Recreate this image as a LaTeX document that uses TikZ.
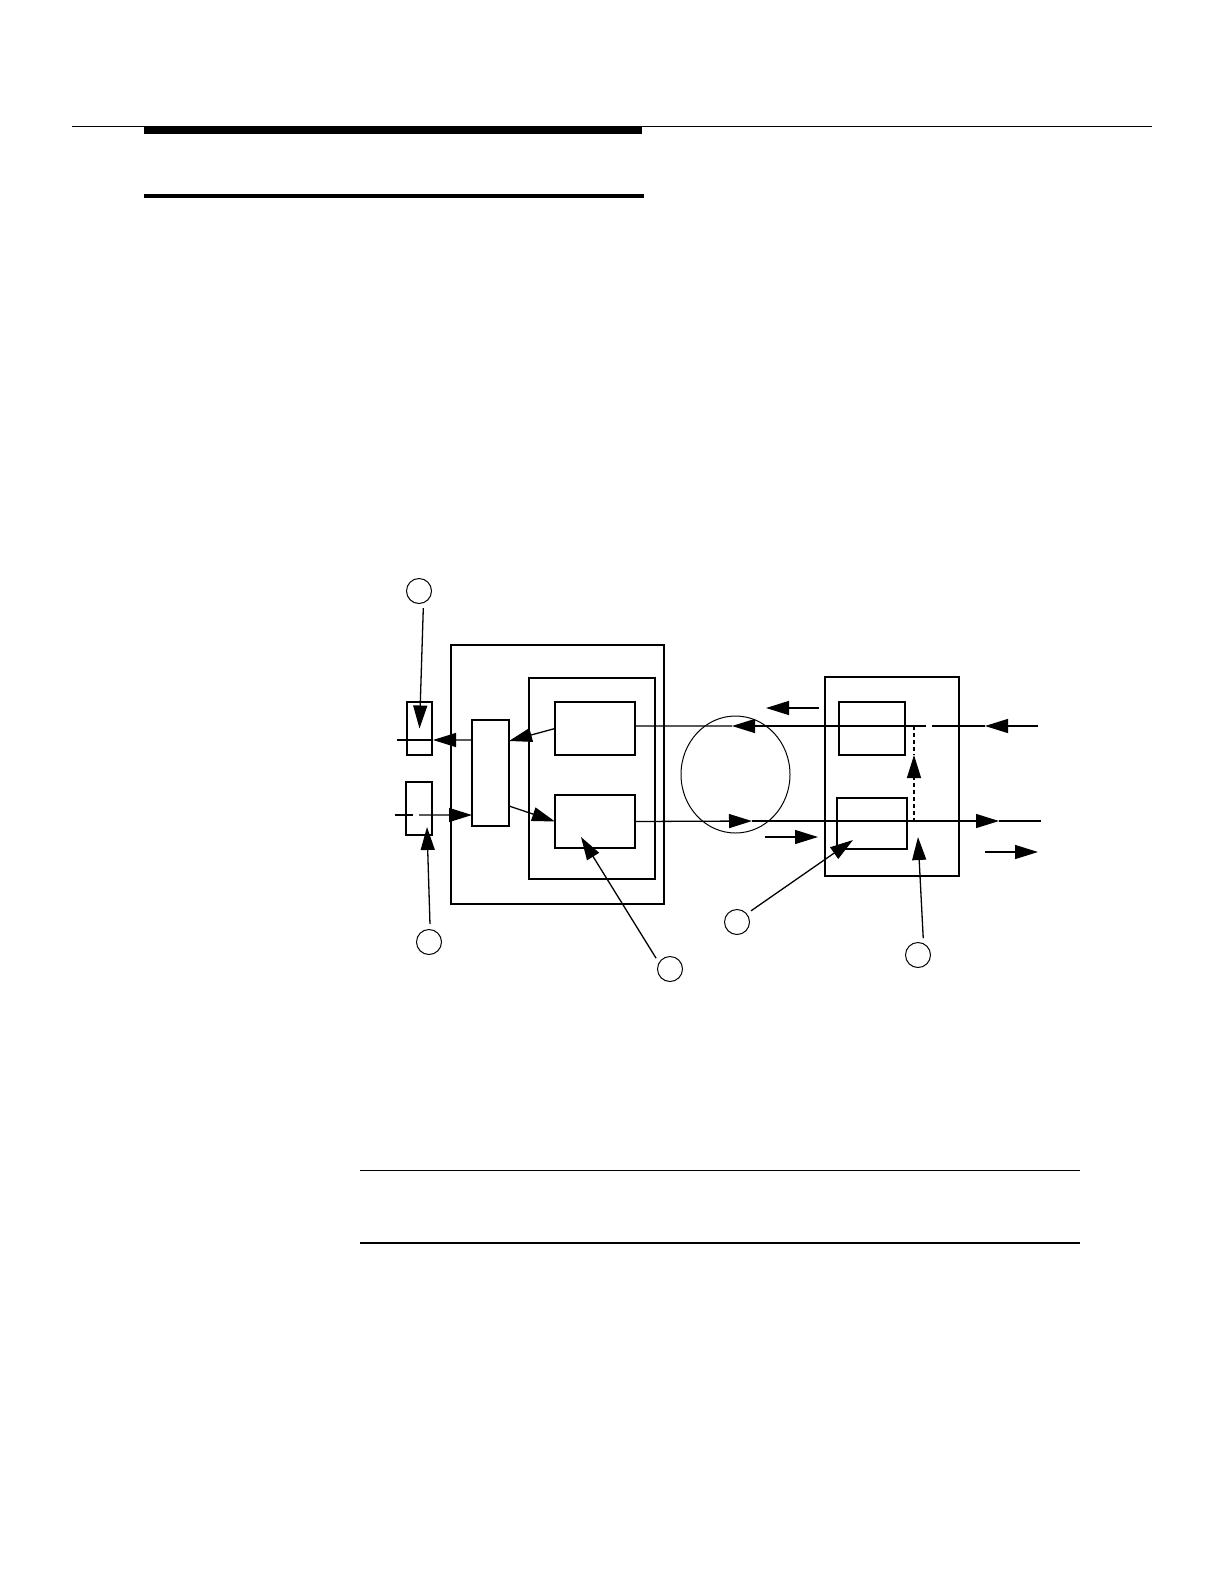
\documentclass[tikz,border=0pt]{standalone}
\usetikzlibrary{arrows.meta, positioning, calc, shapes.geometric}

\begin{document}
\begin{tikzpicture}[x=0.5bp, y=-0.5bp, line width=0.65pt,
  >={Triangle[length=11.5bp, width=7bp]},
  blk/.style={draw, inner sep=0pt, outer sep=0pt},
  callout/.style={draw, circle, inner sep=0pt, minimum size=12.5bp, line width=0.5pt}]

\useasboundingbox (0,0) rectangle (1224,1582);

% -----------------------------------------------------
%  page rules
% -----------------------------------------------------
\draw[line width=0.5bp] (72,126) -- (1152,126);
\fill (144,126) rectangle (642,134);
\fill (144,194) rectangle (644,198);

\draw[line width=0.5bp] (360,1170) -- (1080,1170);
\draw[line width=0.85bp] (360,1243) -- (1080,1243);

% -----------------------------------------------------
%  near end: shelf, card, mux and taps
% -----------------------------------------------------
\node[blk, minimum width=106.5bp, minimum height=129.5bp] (shelf) at (557.5,774.5) {};
\node[blk, minimum width=63bp, minimum height=100.5bp] (card) at (592,778.5) {};
\node[blk, minimum width=18.5bp, minimum height=53bp] (mux) at (490.5,773) {};
\node[blk, minimum width=40bp, minimum height=26.5bp] (txA) at (595,728.5) {};
\node[blk, minimum width=40bp, minimum height=26.5bp] (rxA) at (595,821.5) {};

\node[blk, minimum width=12.5bp, minimum height=26.5bp] (tapA) at (419.5,728.5) {};
\node[blk, minimum width=13bp, minimum height=26.5bp] (tapB) at (419,808.5) {};

% left lines
\coordinate (outL) at (397,740);
\coordinate (tipL) at (433,740);
\coordinate (inL)  at (395,815);
\coordinate (inGap) at (413,815);
\coordinate (inGo) at (419,815);

\draw[->] ([yshift=16.5bp]mux.west) -- (tipL);
\draw (tipL) -- (outL);
\draw (inL) -- (inGap);
\draw[->] (inGo) -- ([yshift=-21bp]mux.west);

\draw[->] (txA.west) -- ([yshift=16bp]mux.east);
\draw[->] ([yshift=-16.5bp]mux.east) -- (rxA.west);

% -----------------------------------------------------
%  ring and far end
% -----------------------------------------------------
\node[draw, ellipse, inner sep=0pt, line width=0.5pt,
      minimum width=54.5bp, minimum height=58.5bp] (ring) at (735.5,774.5) {};

\node[blk, minimum width=67bp, minimum height=99.5bp] (far) at (892,776.5) {};
\node[blk, minimum width=33bp, minimum height=26.5bp] (farTx) at (872,728.5) {};
\node[blk, minimum width=35bp, minimum height=25.5bp] (farRx) at (872,823.5) {};

% upper path (towards near end)
\coordinate (upTip)  at (732,726);
\coordinate (upCut)  at (926,726);
\coordinate (upGo)   at (932,726);
\coordinate (upHead) at (985,726);
\coordinate (upEnd)  at (1038,726);

\draw[->] (upCut) -- (upTip);
\draw (upTip) -- ([yshift=1.25bp]txA.east);
\draw[->] (upEnd) -- (upHead);
\draw (upHead) -- (upGo);

% lower path (towards far end)
\coordinate (dnTip)  at (752,821);
\coordinate (dnHead) at (999,821);
\coordinate (dnEnd)  at (1041,821);

\draw[->] (rxA.east) -- (dnTip);
\draw[->] (dnTip) -- (dnHead);
\draw (dnHead) -- (dnEnd);

% loop-back switch
\coordinate (swTop) at (914,726);
\coordinate (swTip) at (914,755);
\coordinate (swBot) at (914,822);

\draw[dash pattern=on 2bp off 1.5bp] (swTop) -- (swTip);
\draw[->, dash pattern=on 2bp off 1.5bp] (swBot) -- (swTip);

% direction arrows
\coordinate (westA) at (819,708);
\coordinate (westB) at (766,708);
\coordinate (eastA) at (765,837);
\coordinate (eastB) at (818,837);
\coordinate (outA)  at (985,852);
\coordinate (outB)  at (1038,852);

\draw[->] (westA) -- (westB);
\draw[->] (eastA) -- (eastB);
\draw[->] (outA) -- (outB);

% -----------------------------------------------------
%  callouts
% -----------------------------------------------------
\node[callout] (callA) at (419,591) {};
\node[callout] (callB) at (429,942) {};
\node[callout] (callC) at (670,969) {};
\node[callout] (callD) at (737,922) {};
\node[callout] (callE) at (918,955) {};

\coordinate (tipB) at (427,827);
\coordinate (tipC) at (581,837);
\coordinate (tipD) at (853,840);
\coordinate (tipE) at (918,837);

\draw[->, shorten <=2.5bp] (callA.-70) -- (tapA.center);
\draw[->, shorten <=2.5bp] (callB.85) -- (tipB);
\draw[->, shorten <=2.5bp] (callC.150) -- (tipC);
\draw[->, shorten <=2.5bp] (callD.40) -- (tipD);
\draw[->, shorten <=2.5bp] (callE.65) -- (tipE);

\end{tikzpicture}
\end{document}
